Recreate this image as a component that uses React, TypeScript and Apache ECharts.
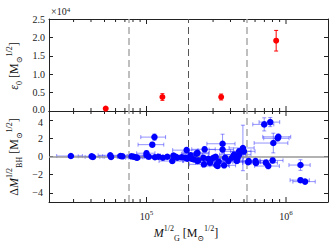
import React, { useEffect, useRef } from 'react';
import * as echarts from 'echarts';

const xMin = 2e4;
const xMax = 2e6;
const xMajorTicks = [1e5, 1e6];
const xMinorTicks = [3e4, 4e4, 5e4, 6e4, 7e4, 8e4, 9e4, 2e5, 3e5, 4e5, 5e5, 6e5, 7e5, 8e5, 9e5];
const topYMin = 0;
const topYMax = 25000;
const topYInterval = 5000;
const bottomYMin = -5;
const bottomYMax = 5;
const bottomYTicks = [-4, -2, 0, 2, 4];
const dashedLines = [7.5e4, 2e5, 5.2e5];
const dashedColors = ['#aaaaaa', '#555555', '#aaaaaa'];

// [x, y, yErr]
const redPoints: [number, number, number][] = [
  [5.1e4, 650, 250],
  [1.3e5, 3800, 900],
  [3.43e5, 3800, 800],
  [8.5e5, 19100, 2800],
];

// [x, y, xErr, yErr]
const bluePoints: [number, number, number, number][] = [
  [2.87e4, 0.05, 0.6e4, 0.05],
  [4.04e4, 0.02, 0.8e4, 0.05],
  [4.13e4, -0.05, 0.5e4, 0.05],
  [5.5e4, 0.13, 1.0e4, 0.08],
  [5.57e4, -0.05, 0.6e4, 0.05],
  [6.5e4, 0.05, 0.8e4, 0.05],
  [6.72e4, 0.02, 0.5e4, 0.05],
  [7.8e4, 0.02, 1.0e4, 0.05],
  [8.1e4, -0.03, 1.2e4, 0.08],
  [8.44e4, -0.1, 1.0e4, 0.1],
  [8.58e4, -0.14, 1.5e4, 0.1],
  [1.0e5, 0.14, 2.0e4, 0.15],
  [1.0e5, 0.36, 1.5e4, 0.3],
  [1.04e5, -0.03, 2.0e4, 0.15],
  [1.14e5, 2.13, 2.3e4, 0.35],
  [1.1e5, 1.3, 2.3e4, 0.25],
  [1.15e5, -0.08, 2.5e4, 0.15],
  [1.22e5, -0.03, 2.5e4, 0.2],
  [1.31e5, -0.14, 3.0e4, 0.2],
  [1.41e5, -0.03, 3.0e4, 0.2],
  [1.53e5, -0.5, 3.0e4, 0.25],
  [1.94e5, 0.7, 4.0e4, 0.3],
  [2.07e5, 0.14, 4.5e4, 0.25],
  [1.91e5, -0.14, 4.0e4, 0.2],
  [1.66e5, -0.14, 3.5e4, 0.2],
  [1.56e5, 0.1, 3.0e4, 0.2],
  [1.62e5, -0.03, 3.5e4, 0.2],
  [1.79e5, -0.08, 4.0e4, 0.2],
  [2.32e5, 0.4, 5.0e4, 0.3],
  [2.61e5, 0.79, 5.0e4, 0.3],
  [2.28e5, 0.3, 5.0e4, 0.25],
  [2.11e5, -0.25, 4.5e4, 0.2],
  [2.35e5, -0.43, 5.0e4, 0.25],
  [2.56e5, -0.14, 5.5e4, 0.2],
  [2.78e5, -0.25, 6.0e4, 0.25],
  [2.85e5, -0.68, 6.0e4, 0.25],
  [3.02e5, -0.14, 6.5e4, 0.2],
  [3.13e5, -0.03, 6.5e4, 0.2],
  [3.17e5, -0.94, 7.0e4, 0.25],
  [3.23e5, -1.05, 7.0e4, 0.25],
  [3.28e5, -0.57, 7.0e4, 0.25],
  [3.51e5, 1.4, 8.0e4, 1.05],
  [3.51e5, 0.76, 7.0e4, 0.2],
  [3.6e5, -0.97, 7.5e4, 0.25],
  [3.66e5, -0.14, 8.0e4, 0.2],
  [3.87e5, -0.5, 8.0e4, 0.25],
  [4.1e5, -0.14, 8.5e4, 0.2],
  [4.32e5, -0.03, 9.0e4, 0.2],
  [4.44e5, -0.5, 9.0e4, 0.25],
  [4.5e5, -0.14, 9.5e4, 0.2],
  [4.61e5, 0.57, 1.0e5, 0.3],
  [4.24e5, 0.2, 9.0e4, 0.25],
  [4.91e5, 0.94, 1.0e5, 2.5],
  [5.0e5, 0.57, 1.0e5, 0.3],
  [4.61e5, 0.2, 1.0e5, 0.2],
  [2.88e5, -0.43, 6.0e4, 0.25],
  [2.58e5, -0.86, 5.5e4, 0.25],
  [2.19e5, -0.32, 4.5e4, 0.2],
  [2.32e5, -0.5, 5.0e4, 0.25],
  [1.96e5, -0.25, 4.0e4, 0.2],
  [5.36e5, -0.62, 1.2e5, 0.25],
  [5.4e5, -0.5, 1.1e5, 0.25],
  [6.05e5, -0.5, 1.2e5, 0.3],
  [6.09e5, -0.72, 1.2e5, 0.3],
  [7.18e5, -0.68, 1.5e5, 0.3],
  [7.46e5, -1.05, 1.5e5, 0.3],
  [8.02e5, -0.43, 1.5e5, 0.3],
  [6.98e5, 3.53, 1.2e5, 0.72],
  [7.71e5, 3.78, 1.3e5, 0.5],
  [8.81e5, 2.16, 2.0e5, 0.3],
  [8.72e5, 2.0, 1.8e5, 0.3],
  [8.11e5, 1.48, 2.2e5, 1.08],
  [1.27e6, -0.94, 2.2e5, 0.58],
  [1.27e6, -2.6, 2.0e5, 0.2],
  [1.37e6, -2.76, 2.5e5, 0.2],
];

const FONT = "'Liberation Serif', 'DejaVu Serif', serif";
const FRAME = '#222222';
const BLUE = '#0000ff';
const BLUE_ERR = 'rgba(40,40,255,0.5)';
const RED = '#ff0000';

const nameRich = {
  n: { fontFamily: FONT, fontSize: 12, lineHeight: 18, fill: '#111', color: '#111' },
  it: { fontFamily: FONT, fontSize: 12, lineHeight: 18, fontStyle: 'italic', fill: '#111', color: '#111' },
  sup: { fontFamily: FONT, fontSize: 8, lineHeight: 9, verticalAlign: 'top', fill: '#111', color: '#111' },
  sub: { fontFamily: FONT, fontSize: 8, lineHeight: 9, verticalAlign: 'bottom', fill: '#111', color: '#111' },
};

const tickLabelRich = {
  t: { fontFamily: FONT, fontSize: 10, lineHeight: 10, color: '#222' },
  up: { fontFamily: FONT, fontSize: 10, lineHeight: 10, color: '#222', padding: [0, 0, 4, 0] },
  down: { fontFamily: FONT, fontSize: 10, lineHeight: 10, color: '#222', padding: [4, 0, 0, 0] },
};

function tickSeries(gridIdx: number, yLo: number, yHi: number) {
  const data = xMajorTicks.map((v) => [v, 5]).concat(xMinorTicks.map((v) => [v, 3]));
  return {
    type: 'custom',
    xAxisIndex: gridIdx * 2,
    yAxisIndex: gridIdx * 2,
    silent: true,
    z: 3,
    data,
    encode: { x: 0 },
    renderItem: (_p: any, api: any) => {
      const v = api.value(0);
      const len = api.value(1);
      const b = api.coord([v, yLo]);
      const t = api.coord([v, yHi]);
      return {
        type: 'group',
        children: [
          { type: 'line', shape: { x1: b[0], y1: b[1], x2: b[0], y2: b[1] - len }, style: { stroke: FRAME, lineWidth: 1 } },
          { type: 'line', shape: { x1: t[0], y1: t[1], x2: t[0], y2: t[1] + len }, style: { stroke: FRAME, lineWidth: 1 } },
        ],
      };
    },
  };
}

function errSeries(gridIdx: number, data: number[][], color: string, hasX: boolean) {
  return {
    type: 'custom',
    xAxisIndex: gridIdx * 2,
    yAxisIndex: gridIdx * 2,
    silent: true,
    z: 4,
    data,
    encode: { x: 0, y: 1 },
    renderItem: (_p: any, api: any) => {
      const x = api.value(0);
      const y = api.value(1);
      const dx = hasX ? api.value(2) : 0;
      const dy = hasX ? api.value(3) : api.value(2);
      const children: any[] = [];
      const cap = 2;
      const st = { stroke: color, lineWidth: 1 };
      if (dx > 0) {
        const l = api.coord([x - dx, y]);
        const r = api.coord([x + dx, y]);
        children.push({ type: 'line', shape: { x1: l[0], y1: l[1], x2: r[0], y2: r[1] }, style: st });
        children.push({ type: 'line', shape: { x1: l[0], y1: l[1] - cap, x2: l[0], y2: l[1] + cap }, style: st });
        children.push({ type: 'line', shape: { x1: r[0], y1: r[1] - cap, x2: r[0], y2: r[1] + cap }, style: st });
      }
      if (dy > 0) {
        const lo = api.coord([x, y - dy]);
        const hi = api.coord([x, y + dy]);
        children.push({ type: 'line', shape: { x1: lo[0], y1: lo[1], x2: hi[0], y2: hi[1] }, style: st });
        children.push({ type: 'line', shape: { x1: lo[0] - cap, y1: lo[1], x2: lo[0] + cap, y2: lo[1] }, style: st });
        children.push({ type: 'line', shape: { x1: hi[0] - cap, y1: hi[1], x2: hi[0] + cap, y2: hi[1] }, style: st });
      }
      return { type: 'group', children };
    },
  };
}

function isPow10(v: number) {
  const l = Math.log10(v);
  return Math.abs(l - Math.round(l)) < 1e-6;
}

export default function App() {
  const ref = useRef<HTMLDivElement>(null);
  useEffect(() => {
    if (!ref.current) return;
    const chart = echarts.init(ref.current, undefined, { renderer: 'svg' });
    const grids = [
      { left: 49, top: 19, width: 279, height: 92 },
      { left: 49, top: 111, width: 279, height: 91 },
    ];
    const xAxis = [0, 1, 2, 3].map((i) => {
      const g = Math.floor(i / 2);
      const bottom = i % 2 === 0;
      const withLabels = i === 2;
      return {
        type: 'log',
        logBase: 10,
        gridIndex: g,
        position: bottom ? 'bottom' : 'top',
        min: xMin,
        max: xMax,
        axisLine: { show: true, onZero: false, lineStyle: { color: FRAME, width: 1 } },
        axisTick: { show: false },
        minorTick: { show: false },
        splitLine: { show: false },
        axisLabel: withLabels
          ? {
              show: true,
              margin: 7,
              customValues: xMajorTicks,
              formatter: (v: number) => (isPow10(v) && v > xMin * 1.01 && v < xMax * 0.99 ? `{b|10}{s|${Math.round(Math.log10(v))}}` : ''),
              rich: {
                b: { fontFamily: FONT, fontSize: 10, color: '#222', lineHeight: 14 },
                s: { fontFamily: FONT, fontSize: 7, color: '#222', lineHeight: 7, verticalAlign: 'top' },
              },
            }
          : { show: false },
      };
    });
    const yAxis = [0, 1, 2, 3].map((i) => {
      const g = Math.floor(i / 2);
      const left = i % 2 === 0;
      const base: any = {
        type: 'value',
        gridIndex: g,
        position: left ? 'left' : 'right',
        axisLine: { show: true, onZero: false, lineStyle: { color: FRAME, width: 1 } },
        splitLine: { show: false },
      };
      if (g === 0) {
        return {
          ...base,
          min: topYMin,
          max: topYMax,
          interval: topYInterval,
          axisTick: { show: true, inside: true, length: 4, lineStyle: { color: FRAME } },
          axisLabel: left
            ? {
                show: true,
                margin: 4,
                rich: tickLabelRich,
                formatter: (v: number) => (v === 0 ? `{up|${(v / 1e4).toFixed(1)}}` : `{t|${(v / 1e4).toFixed(1)}}`),
              }
            : { show: false },
        };
      }
      return {
        ...base,
        min: bottomYMin,
        max: bottomYMax,
        interval: 1,
        axisTick: { show: true, inside: true, length: 4, customValues: bottomYTicks, lineStyle: { color: FRAME } },
        axisLabel: left
          ? {
              show: true,
              margin: 6,
              customValues: bottomYTicks,
              rich: tickLabelRich,
              formatter: (v: number) => {
                if (!bottomYTicks.includes(v)) return '';
                const s = v < 0 ? '\u2212' + Math.abs(v) : String(v);
                return v === bottomYTicks[bottomYTicks.length - 1] ? `{down|${s}}` : `{t|${s}}`;
              },
            }
          : { show: false },
      };
    });

    const dashedMark = (extra: any[]) => ({
      silent: true,
      symbol: 'none',
      label: { show: false },
      animation: false,
      data: [
        ...dashedLines.map((v, i) => ({
          xAxis: v,
          lineStyle: { color: dashedColors[i], width: i === 1 ? 1 : 1.5, type: [7, 4] },
        })),
        ...extra,
      ],
    });

    const option: any = {
      animation: false,
      grid: grids,
      xAxis,
      yAxis,
      series: [
        { type: 'scatter', xAxisIndex: 0, yAxisIndex: 0, data: [], z: 1, markLine: dashedMark([]) },
        {
          type: 'scatter',
          xAxisIndex: 2,
          yAxisIndex: 2,
          data: [],
          z: 1,
          markLine: dashedMark([{ yAxis: 0, lineStyle: { color: '#999999', width: 1.5, type: 'solid' } }]),
        },
        tickSeries(0, topYMin, topYMax),
        tickSeries(1, bottomYMin, bottomYMax),
        errSeries(0, redPoints, RED, false),
        {
          type: 'scatter',
          xAxisIndex: 0,
          yAxisIndex: 0,
          data: redPoints.map((p) => [p[0], p[1]]),
          symbolSize: 6,
          itemStyle: { color: RED, opacity: 1 },
          z: 5,
        },
        errSeries(1, bluePoints, BLUE_ERR, true),
        {
          type: 'scatter',
          xAxisIndex: 2,
          yAxisIndex: 2,
          data: bluePoints.map((p) => [p[0], p[1]]),
          symbolSize: 6.5,
          itemStyle: { color: BLUE, opacity: 1 },
          z: 5,
        },
      ],
      graphic: [
        {
          type: 'text',
          x: 51,
          y: 11,
          style: {
            text: '\u00d710{s|4}',
            fontFamily: FONT,
            fontSize: 10,
            fill: '#222',
            align: 'left',
            verticalAlign: 'middle',
            rich: {
              s: { fontFamily: FONT, fontSize: 7, lineHeight: 7, verticalAlign: 'top', fill: '#222' },
            },
          },
        },
        {
          type: 'text',
          x: 14,
          y: 66,
          rotation: Math.PI / 2,
          style: {
            text: '{it|\u03b5}{sub|0}{n| [M}{sub|\u2299}{sup|1/2}{n|]}',
            rich: nameRich,
            align: 'center',
            verticalAlign: 'middle',
          },
        },
        {
          type: 'text',
          x: 14,
          y: 157,
          rotation: Math.PI / 2,
          style: {
            text: '{n|\u0394}{it|M}{sup|1/2}{sub|BH}{n| [M}{sub|\u2299}{sup|1/2}{n|]}',
            rich: nameRich,
            align: 'center',
            verticalAlign: 'middle',
          },
        },
        {
          type: 'text',
          x: 186,
          y: 233,
          style: {
            text: '{it|M}{sup|1/2}{sub|G}{n| [M}{sub|\u2299}{sup|1/2}{n|]}',
            rich: nameRich,
            align: 'center',
            verticalAlign: 'middle',
          },
        },
      ],
    };
    chart.setOption(option);
    return () => chart.dispose();
  }, []);
  return <div ref={ref} style={{ position: 'absolute', left: 0, top: 0, width: 332, height: 249, background: '#fff' }} />;
}
